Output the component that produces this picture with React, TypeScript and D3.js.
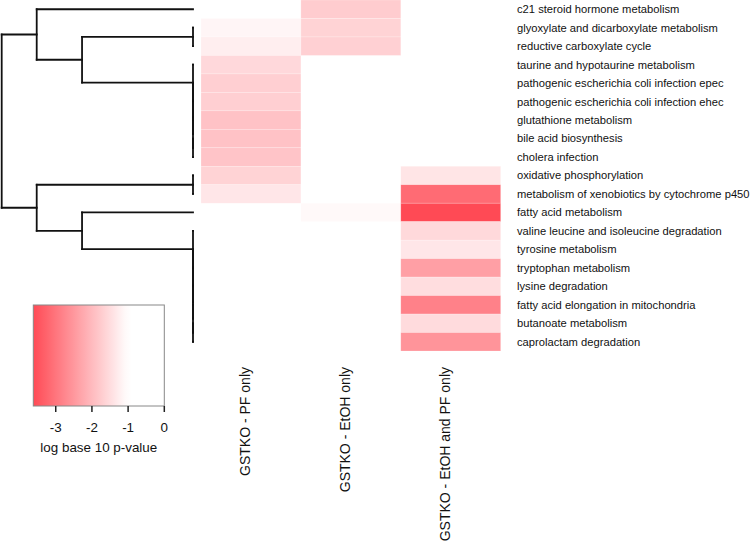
import React from "react";
import * as d3 from "d3";

const rowLabels = [
  "c21 steroid hormone metabolism",
  "glyoxylate and dicarboxylate metabolism",
  "reductive carboxylate cycle",
  "taurine and hypotaurine metabolism",
  "pathogenic escherichia coli infection epec",
  "pathogenic escherichia coli infection ehec",
  "glutathione metabolism",
  "bile acid biosynthesis",
  "cholera infection",
  "oxidative phosphorylation",
  "metabolism of xenobiotics by cytochrome p450",
  "fatty acid metabolism",
  "valine leucine and isoleucine degradation",
  "tyrosine metabolism",
  "tryptophan metabolism",
  "lysine degradation",
  "fatty acid elongation in mitochondria",
  "butanoate metabolism",
  "caprolactam degradation",
];

const columns = ["GSTKO - PF only", "GSTKO - EtOH only", "GSTKO - EtOH and PF only"];

// log10 p-values (null = not significant / not drawn)
const pfOnly: (number | null)[] = [
  null, -1.14, -1.25, -1.56, -1.69, -1.69, -1.88, -1.88, -1.85, -1.64, -1.36,
  null, null, null, null, null, null, null, null,
];
const etohOnly: (number | null)[] = [
  -1.74, -1.64, -1.68, null, null, null, null, null, null, null, null,
  -1.09, null, null, null, null, null, null, null,
];
const etohAndPf: (number | null)[] = [
  null, null, null, null, null, null, null, null, null, -1.38, -3.14,
  -3.62, -1.55, -1.36, -2.39, -1.49, -2.82, -1.52, -2.55,
];

// hierarchical clustering merges: number = leaf row, "mK" = merge K; third = relative height
const merges: [number | string, number | string, number][] = [
  [7, 8, 0],
  [6, "m0", 0],
  [5, "m1", 0],
  [4, "m2", 0],
  [3, "m3", 0],
  [1, 2, 0],
  ["m5", "m4", 0.58],
  [0, "m6", 0.817],
  [9, 10, 0],
  [17, 18, 0],
  [16, "m9", 0],
  [15, "m10", 0],
  [14, "m11", 0],
  [13, "m12", 0],
  [12, "m13", 0],
  [11, "m14", 0.58],
  ["m8", "m15", 0.817],
  ["m7", "m16", 1],
];

const legendTicks = [-3, -2, -1, 0];
const legendTitle = "log base 10 p-value";

const W = 750;
const H = 542;

export default function App() {
  const series = [pfOnly, etohOnly, etohAndPf];
  const rows = rowLabels.map((_, i) => i);

  const y = d3.scaleBand<number>().domain(rows).range([0, 351]);
  const x = d3.scaleBand<string>().domain(columns).range([201, 500.7]);
  const color = d3
    .scaleLinear<string>()
    .domain([-3.62, -1, 0])
    .range(["#ff4a55", "#ffffff", "#ffffff"])
    .clamp(true);

  const hx = d3.scaleLinear().domain([0, 1]).range([193, 1.7]);
  const yc = (i: number) => (y(i) as number) + y.bandwidth() / 2;

  // dendrogram positions
  const pos: { y: number; h: number }[] = [];
  const getNode = (ref: number | string) => {
    if (typeof ref === "number") return { y: yc(ref), h: 0 };
    return pos[parseInt(ref.slice(1), 10)];
  };
  const segs: { x1: number; y1: number; x2: number; y2: number }[] = [];
  merges.forEach(([a, b, h]) => {
    const na = getNode(a);
    const nb = getNode(b);
    const px = hx(h);
    segs.push({ x1: px, y1: na.y, x2: px, y2: nb.y });
    segs.push({ x1: px, y1: na.y, x2: hx(na.h), y2: na.y });
    segs.push({ x1: px, y1: nb.y, x2: hx(nb.h), y2: nb.y });
    pos.push({ y: (na.y + nb.y) / 2, h });
  });

  const lx = d3.scaleLinear().domain([-3.62, 0]).range([33.3, 164.3]);
  const gradStops = d3.range(0, 1.0001, 0.05).map((t) => ({
    offset: t,
    c: color(lx.invert(33.3 + t * 131)),
  }));

  const font = "'Liberation Sans', Arial, Helvetica, sans-serif";

  return (
    <svg
      width={W}
      height={H}
      style={{ position: "absolute", left: 0, top: 0, background: "#fff" }}
      fontFamily={font}
    >
      <defs>
        <linearGradient id="lg" x1="0" x2="1" y1="0" y2="0">
          {gradStops.map((s, i) => (
            <stop key={i} offset={s.offset} stopColor={s.c} />
          ))}
        </linearGradient>
      </defs>
      <rect x={0} y={0} width={W} height={H} fill="#fff" />

      {/* heatmap */}
      {series.map((vals, ci) =>
        vals.map((v, ri) =>
          v === null ? null : (
            <rect
              key={`${ci}-${ri}`}
              x={x(columns[ci])}
              y={y(ri)}
              width={x.bandwidth()}
              height={y.bandwidth()}
              fill={color(v)}
              stroke="#ffffff"
              strokeOpacity={0.35}
              strokeWidth={0.6}
            />
          )
        )
      )}

      {/* dendrogram */}
      <g stroke="#111" strokeWidth={1.8} strokeLinecap="square">
        {segs.map((s, i) => (
          <line key={i} x1={s.x1} y1={s.y1} x2={s.x2} y2={s.y2} />
        ))}
      </g>

      {/* row labels */}
      {rowLabels.map((l, i) => (
        <text key={l} x={517} y={yc(i)} dy="0.35em" fontSize={11.2} fill="#111">
          {l}
        </text>
      ))}

      {/* column labels */}
      {columns.map((c) => (
        <text
          key={c}
          transform={`translate(${(x(c) as number) + x.bandwidth() / 2 - 0.5},367) rotate(-90)`}
          textAnchor="end"
          fontSize={14}
          fill="#111"
        >
          {c}
        </text>
      ))}

      {/* legend */}
      <rect x={33.3} y={305} width={131} height={101} fill="url(#lg)" stroke="#888" strokeWidth={1} />
      <g stroke="#222" strokeWidth={1.5}>
        {legendTicks.map((t) => (
          <line key={t} x1={lx(t)} x2={lx(t)} y1={406} y2={412} />
        ))}
      </g>
      {legendTicks.map((t) => (
        <text key={t} x={lx(t)} y={432} textAnchor="middle" fontSize={13.4} fill="#111">
          {String(t).replace("\u2212", "-")}
        </text>
      ))}
      <text x={98.8} y={452} textAnchor="middle" fontSize={13.4} fill="#111">
        {legendTitle}
      </text>
    </svg>
  );
}
